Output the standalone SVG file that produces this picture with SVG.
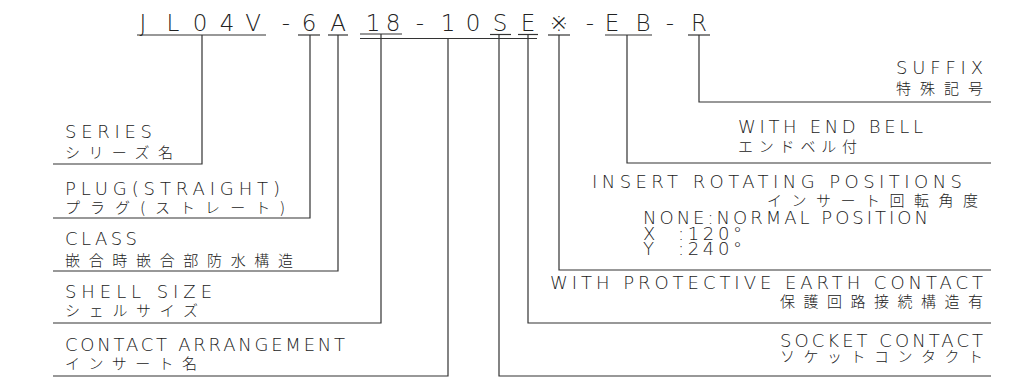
<svg xmlns="http://www.w3.org/2000/svg" width="1030" height="382" viewBox="0 0 1030 382">
<style>
  text { fill: #222; }
  .lat { font-family: "DejaVu Sans", "Liberation Sans", "Noto Sans CJK JP", sans-serif; font-weight: 200; font-size: 18px; }
  .jp { font-family: "Noto Sans CJK JP", sans-serif; font-weight: 300; font-size: 15px; }
  .code { font-family: "DejaVu Sans", "Liberation Sans", "Noto Sans CJK JP", sans-serif; font-weight: 200; font-size: 23px; }
  .ln { fill: none; stroke: #333; stroke-width: 1.2; }
</style>
<rect width="1030" height="382" fill="#fff"/>
<g id="code">
  <text class="code" text-anchor="middle" x="143 173 200 227 253 286 309 338 373 393 420 448 473 500 528 559 590 612 643 670 699" y="31">JL04V-6A18-10SE※-EB-R</text>
</g>
<g id="connectors" class="ln">
  <path d="M137,35 H266"/>
  <path d="M298,35 H320"/>
  <path d="M328,35 H348"/>
  <path d="M360,34 H402"/>
  <path d="M360,38.5 H537"/>
  <path d="M490,34.5 H511"/>
  <path d="M518,34.5 H538"/>
  <path d="M548,35 H570"/>
  <path d="M605,35 H652"/>
  <path d="M688,35 H710"/>
  <path d="M202,35 V164 H53"/>
  <path d="M310,35 V218 H53"/>
  <path d="M338,35 V271 H53"/>
  <path d="M381,34 V323 H53"/>
  <path d="M448,38.5 V376 H53"/>
  <path d="M499,34.5 V376 H991"/>
  <path d="M528,34.5 V323 H991"/>
  <path d="M559,35 V270 H991"/>
  <path d="M627,35 V163 H991"/>
  <path d="M699,35 V102 H991"/>
</g>
<g id="series">
  <text><tspan class="lat" x="65" y="138" textLength="87" lengthAdjust="spacing">SERIES</tspan><tspan class="jp" x="65" y="158" textLength="108" lengthAdjust="spacing">シリーズ名</tspan></text>
</g>
<g id="plug">
  <text><tspan class="lat" x="65" y="195" textLength="215" lengthAdjust="spacing">PLUG(STRAIGHT)</tspan><tspan class="jp" x="65" y="213" textLength="220" lengthAdjust="spacing">プラグ(ストレート)</tspan></text>
</g>
<g id="class">
  <text><tspan class="lat" x="65" y="245" textLength="72" lengthAdjust="spacing">CLASS</tspan><tspan class="jp" x="65" y="266" textLength="228" lengthAdjust="spacing">嵌合時嵌合部防水構造</tspan></text>
</g>
<g id="shell-size">
  <text><tspan class="lat" x="65" y="298" textLength="147" lengthAdjust="spacing">SHELL SIZE</tspan><tspan class="jp" x="65" y="316" textLength="133" lengthAdjust="spacing">シェルサイズ</tspan></text>
</g>
<g id="contact-arrangement">
  <text><tspan class="lat" x="65" y="351" textLength="280" lengthAdjust="spacing">CONTACT ARRANGEMENT</tspan><tspan class="jp" x="65" y="369" textLength="132" lengthAdjust="spacing">インサート名</tspan></text>
</g>
<g id="suffix">
  <text><tspan class="lat" x="896" y="74" textLength="87" lengthAdjust="spacing">SUFFIX</tspan><tspan class="jp" x="896" y="94" textLength="87" lengthAdjust="spacing">特殊記号</tspan></text>
</g>
<g id="end-bell">
  <text><tspan class="lat" x="738" y="133" textLength="185" lengthAdjust="spacing">WITH END BELL</tspan><tspan class="jp" x="738" y="152" textLength="119" lengthAdjust="spacing">エンドベル付</tspan></text>
</g>
<g id="insert-rotating">
  <text><tspan class="lat" x="592" y="188" textLength="370" lengthAdjust="spacing">INSERT ROTATING POSITIONS</tspan><tspan class="jp" x="767" y="206" textLength="211" lengthAdjust="spacing">インサート回転角度</tspan><tspan class="lat" x="643" y="224" textLength="285" lengthAdjust="spacing">NONE:NORMAL POSITION</tspan><tspan class="lat" x="643" y="240">X</tspan><tspan class="lat" x="678" y="240" textLength="64" lengthAdjust="spacing">:120°</tspan><tspan class="lat" x="643" y="255">Y</tspan><tspan class="lat" x="678" y="255" textLength="64" lengthAdjust="spacing">:240°</tspan></text>
</g>
<g id="earth-contact">
  <text><tspan class="lat" x="550" y="289" textLength="433" lengthAdjust="spacing">WITH PROTECTIVE EARTH CONTACT</tspan><tspan class="jp" x="780" y="307" textLength="203" lengthAdjust="spacing">保護回路接続構造有</tspan></text>
</g>
<g id="socket-contact">
  <text><tspan class="lat" x="780" y="347" textLength="203" lengthAdjust="spacing">SOCKET CONTACT</tspan><tspan class="jp" x="780" y="362" textLength="203" lengthAdjust="spacing">ソケットコンタクト</tspan></text>
</g>
</svg>
